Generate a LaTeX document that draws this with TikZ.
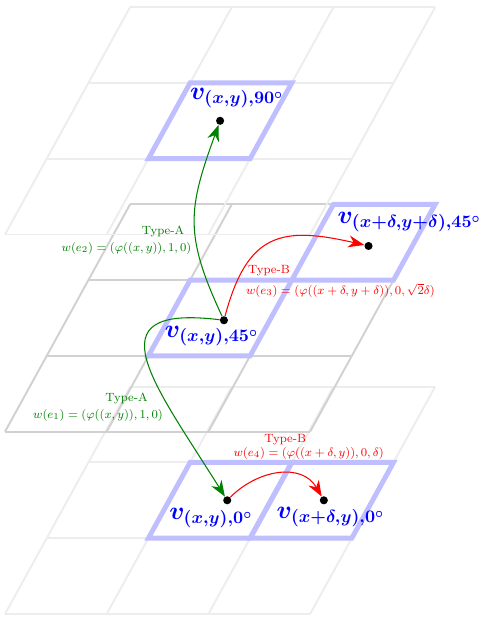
\documentclass[tikz,border=0pt]{standalone}
\usepackage{amsmath,amssymb}
\usepackage{tikz}
\usetikzlibrary{arrows.meta, positioning, calc}

\begin{document}
\begin{tikzpicture}[
    x={(2.034cm,0cm)}, y={(0.834cm,1.516cm)},
    faint/.style={draw=black!7, line width=1.1pt},
    plain/.style={draw=black!18, line width=1.1pt},
    cell/.style={draw=blue!25, line width=2.8pt},
    dot/.style={circle, fill=black, inner sep=0pt, minimum size=4.6pt},
    vname/.style={font=\Large\boldmath, text=blue, inner sep=0pt},
    typeA/.style={-{Stealth[length=3.2mm, width=2.4mm]}, semithick, draw=green!50!black},
    typeB/.style={-{Stealth[length=3.2mm, width=2.4mm]}, semithick, draw=red},
    wlabel/.style={font=\footnotesize, scale=0.85, inner sep=0pt}
]

\useasboundingbox (-0.1cm,-0.08cm) rectangle (9.64cm,12.28cm);

% Layer 0 degrees
\begin{scope}
  \foreach \i in {0,...,3} {
    \draw[faint] (\i,0) -- (\i,3);
    \draw[faint] (0,\i) -- (3,\i);
  }
  \draw[cell] (1,1) -- (2,1) -- (2,2) -- (1,2) -- cycle;
  \draw[cell] (2,1) -- (3,1) -- (3,2) -- (2,2) -- cycle;
  \node[dot] (v0) at (1.57,1.5) {};
  \node[dot] (vd0) at (2.52,1.5) {};
\end{scope}

% Layer 45 degrees
\begin{scope}[yshift=3.646cm]
  \foreach \i in {0,...,3} {
    \draw[plain] (\i,0) -- (\i,3);
    \draw[plain] (0,\i) -- (3,\i);
  }
  \draw[cell] (1,1) -- (2,1) -- (2,2) -- (1,2) -- cycle;
  \draw[cell] (2,2) -- (3,2) -- (3,3) -- (2,3) -- cycle;
  \node[dot] (v45) at (1.55,1.47) {};
  \node[dot] (vd45) at (2.57,2.45) {};
\end{scope}

% Layer 90 degrees
\begin{scope}[yshift=7.59cm]
  \foreach \i in {0,...,3} {
    \draw[faint] (\i,0) -- (\i,3);
    \draw[faint] (0,\i) -- (3,\i);
  }
  \draw[cell] (1,1) -- (2,1) -- (2,2) -- (1,2) -- cycle;
  \node[dot] (v90) at (1.5,1.5) {};
\end{scope}

% State names
\node[vname, xshift=0.34cm, yshift=0.46cm] (n90) at (v90) {$v_{(x,y),90^\circ}$};
\node[vname, xshift=0.82cm, yshift=0.48cm] (nd45) at (vd45) {$v_{(x+\delta,y+\delta),45^\circ}$};
\node[vname, xshift=-0.24cm, yshift=-0.32cm] (n45) at (v45) {$v_{(x,y),45^\circ}$};
\node[vname, xshift=-0.32cm, yshift=-0.36cm] (n0) at (v0) {$v_{(x,y),0^\circ}$};
\node[vname, xshift=0.14cm, yshift=-0.34cm] (nd0) at (vd0) {$v_{(x+\delta,y),0^\circ}$};

% Edges
\draw[typeA] (v45) to[out=115, in=-110, looseness=1.2] (v90);
\draw[typeA] (v45) to[out=173, in=122, looseness=1.9] (v0);
\draw[typeB] (v45) to[out=75, in=167, looseness=1.4] (vd45);
\draw[typeB] (v0) to[out=45, in=120, looseness=1.1] (vd0);

% Edge labels
\node[wlabel, text=green!50!black] (t2) at ($(v45)+(-1.22cm,1.78cm)$) {Type-A};
\node[wlabel, text=green!50!black] (w2) at ($(v45)+(-1.95cm,1.44cm)$) {$w(e_2) = (\varphi((x,y)),1,0)$};
\node[wlabel, text=green!50!black] (t1) at ($(v45)+(-1.95cm,-1.57cm)$) {Type-A};
\node[wlabel, text=green!50!black] (w1) at ($(v45)+(-2.52cm,-1.9cm)$) {$w(e_1) = (\varphi((x,y)),1,0)$};
\node[wlabel, text=red] (t3) at ($(v45)+(0.9cm,1.0cm)$) {Type-B};
\node[wlabel, text=red] (w3) at ($(v45)+(2.33cm,0.6cm)$) {$w(e_3) = (\varphi((x+\delta,y+\delta)),0,\sqrt{2}\delta)$};
\node[wlabel, text=red] (t4) at ($(v0)+(1.16cm,1.22cm)$) {Type-B};
\node[wlabel, text=red] (w4) at ($(v0)+(1.63cm,0.94cm)$) {$w(e_4) = (\varphi((x+\delta,y)),0,\delta)$};

\end{tikzpicture}
\end{document}
